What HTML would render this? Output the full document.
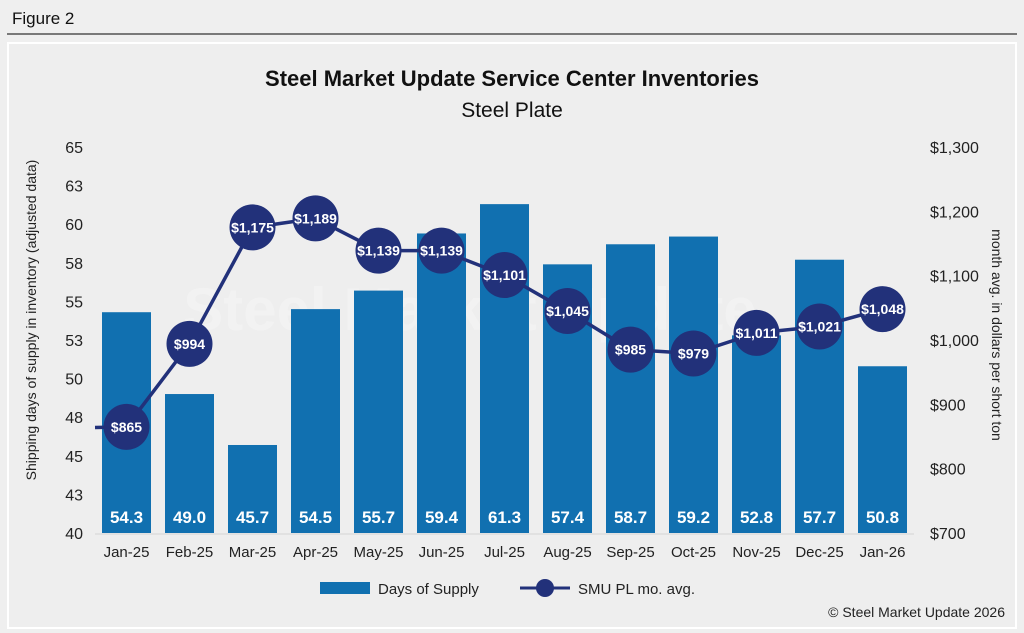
<!DOCTYPE html>
<html><head><meta charset="utf-8"><style>
body{margin:0;background:#efefef;font-family:"Liberation Sans",Arial,sans-serif;}
svg{display:block}
</style></head><body>
<svg id="c" width="1024" height="633" xmlns="http://www.w3.org/2000/svg">
<rect x="0" y="0" width="1024" height="633" fill="#efefef"/>
<text x="12" y="24" font-size="17" fill="#111">Figure 2</text>
<line x1="7" y1="34" x2="1017" y2="34" stroke="#333" stroke-width="1.2"/>
<rect x="8" y="43" width="1008" height="585" fill="#eeeeee" stroke="#ffffff" stroke-width="2"/>
<text x="512" y="86" font-size="22" font-weight="bold" text-anchor="middle" fill="#111">Steel Market Update Service Center Inventories</text>
<text x="512" y="117" font-size="21" text-anchor="middle" fill="#111">Steel Plate</text>
<text x="470" y="330" font-size="60" font-weight="bold" text-anchor="middle" fill="#ffffff" opacity="0.25">Steel Market Update</text>
<text transform="translate(36,320) rotate(-90)" font-size="14" text-anchor="middle" fill="#222">Shipping days of supply in inventory (adjusted data)</text>
<text transform="translate(992,335) rotate(90)" font-size="14" text-anchor="middle" fill="#222">month avg. in dollars per short ton</text>
<g id="plot"></g>
<g>
<rect x="320" y="582" width="50" height="12" fill="#1170b0"/>
<text x="378" y="594" font-size="15" fill="#222">Days of Supply</text>
<line x1="520" y1="588" x2="570" y2="588" stroke="#22317a" stroke-width="3"/>
<circle cx="545" cy="588" r="9" fill="#22317a"/>
<text x="578" y="594" font-size="15" fill="#222">SMU PL mo. avg.</text>
</g>
<text x="1005" y="617" font-size="14" text-anchor="end" fill="#222">© Steel Market Update 2026</text>
</svg>
<script>
const categories=["Jan-25","Feb-25","Mar-25","Apr-25","May-25","Jun-25","Jul-25","Aug-25","Sep-25","Oct-25","Nov-25","Dec-25","Jan-26"];
const daysSupply=[54.3,49.0,45.7,54.5,55.7,59.4,61.3,57.4,58.7,59.2,52.8,57.7,50.8];
const price=[865,994,1175,1189,1139,1139,1101,1045,985,979,1011,1021,1048];
const priorPrice=864;
const leftTicks=[40,42.5,45,47.5,50,52.5,55,57.5,60,62.5,65];
const rightTicks=[700,800,900,1000,1100,1200,1300];
const NS="http://www.w3.org/2000/svg";
const g=document.getElementById('plot');
const X0=95,X1=914,Y0=533,Y1=147;
const bw=(X1-X0)/categories.length;
const yL=v=>Y0-(v-40)/(65-40)*(Y0-Y1);
const yR=v=>Y0-(v-700)/(1300-700)*(Y0-Y1);
const xc=i=>X0+bw*(i+0.5);
function mk(tag,attrs,txt){const e=document.createElementNS(NS,tag);for(const k in attrs)e.setAttribute(k,attrs[k]);if(txt!==undefined)e.textContent=txt;g.appendChild(e);return e;}
leftTicks.forEach(t=>{const e=mk('text',{x:X0-12,y:yL(t)+6,'font-size':16,'text-anchor':'end',fill:'#222'},String(Math.round(t+0.001)));

});
rightTicks.forEach(t=>{const e=mk('text',{x:930,y:yR(t)+6,'font-size':16,fill:'#222'},'$'+t.toLocaleString('en-US'));

});
const ax=mk('line',{x1:X0,y1:Y0+1,x2:X1,y2:Y0+1,stroke:'#d4d4d4','stroke-width':1});


categories.forEach((c,i)=>{
const h=Y0-yL(daysSupply[i]);
const r=mk('rect',{x:xc(i)-24.5,y:yL(daysSupply[i]),width:49,height:h,fill:'#1170b0'});


const v=mk('text',{x:xc(i),y:Y0-10,'font-size':17,'font-weight':'bold','text-anchor':'middle',fill:'#fff'},daysSupply[i].toFixed(1));


const l=mk('text',{x:xc(i),y:Y0+24,'font-size':15,'text-anchor':'middle',fill:'#222'},c);


});
let d='M'+X0+','+yR(priorPrice);
price.forEach((p,i)=>{d+=' L'+xc(i)+','+yR(p);});
const pl=mk('path',{d:d,fill:'none',stroke:'#22317a','stroke-width':3.5});


price.forEach((p,i)=>{
const c=mk('circle',{cx:xc(i),cy:yR(p),r:23,fill:'#22317a'});


const t=mk('text',{x:xc(i),y:yR(p)+5,'font-size':14,'font-weight':'bold','text-anchor':'middle',fill:'#fff'},'$'+p.toLocaleString('en-US'));


});
</script>
</body></html>
